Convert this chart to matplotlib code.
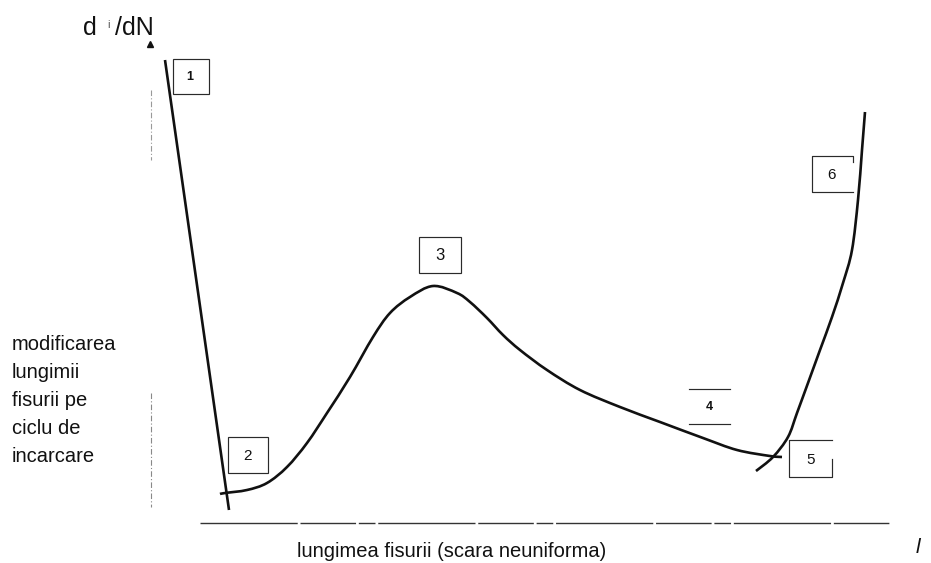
import matplotlib
matplotlib.use("Agg")
import matplotlib.pyplot as plt
from matplotlib.patches import Rectangle, PathPatch
from matplotlib.path import Path

plt.rcParams['font.family'] = ['Liberation Sans', 'DejaVu Sans']

# Schematic crack-growth-rate curve, drawn in a canvas-like coordinate frame
# (x to the right, y downward).
stage1_x = [165, 229]
stage1_y = [60, 510]

main_x = [220, 225, 247, 267, 287, 307, 327, 350, 373, 390, 410, 433,
          457, 470, 487, 503, 520, 547, 580, 620, 660, 703, 737, 770, 782]
main_y = [494, 493, 490, 483, 467, 443, 413, 377, 337, 313, 297, 286,
          293, 302, 318, 335, 350, 370, 390, 407, 422, 438, 450, 456, 457]

final_x = [756, 773, 788, 797, 808, 820, 832, 843, 852, 858, 862, 865]
final_y = [471, 457, 437, 413, 383, 350, 317, 283, 250, 200, 150, 112]

# region labels: (text, x, y)
region_labels = [("1", 190, 77), ("2", 247, 456), ("3", 440, 256),
                 ("4", 709, 407), ("5", 811, 460), ("6", 832, 175)]

y_label_lines = ["modificarea", "lungimii", "fisurii pe", "ciclu de", "incarcare"]
x_label = "lungimea fisurii (scara neuniforma)"


def smooth_path(xs, ys):
    """Smooth Bezier path passing through the given points (Catmull-Rom)."""
    pts = list(zip(xs, ys))
    verts = [pts[0]]
    codes = [Path.MOVETO]
    n = len(pts)
    for i in range(n - 1):
        p0 = pts[i - 1] if i > 0 else pts[i]
        p1 = pts[i]
        p2 = pts[i + 1]
        p3 = pts[i + 2] if i + 2 < n else pts[i + 1]
        c1 = (p1[0] + (p2[0] - p0[0]) / 6, p1[1] + (p2[1] - p0[1]) / 6)
        c2 = (p2[0] - (p3[0] - p1[0]) / 6, p2[1] - (p3[1] - p1[1]) / 6)
        verts += [c1, c2, p2]
        codes += [Path.CURVE4] * 3
    return Path(verts, codes)


fig = plt.figure(figsize=(9.31, 5.63), dpi=100)
ax = fig.add_axes([0, 0, 1, 1])
ax.set_xlim(0, 931)
ax.set_ylim(563, 0)
ax.axis('off')

ink = '#111111'
frame = '#2a2a2a'

# axes
ax.plot([200, 890], [523, 523], color='#333333', lw=1.0,
        linestyle=(0, (70, 2, 40, 2, 12, 2)))
ax.plot([151, 151], [90, 160], color='#999999', lw=0.8, linestyle=(0, (5, 2, 1, 2)))
ax.plot([151, 151], [393, 507], color='#888888', lw=0.8, linestyle=(0, (5, 2, 1, 2)))
ax.plot([150], [44], marker='^', markersize=4.5, color=ink)

# curves
ax.plot(stage1_x, stage1_y, color=ink, lw=1.9, solid_capstyle='butt')
for xs, ys in ((main_x, main_y), (final_x, final_y)):
    ax.add_patch(PathPatch(smooth_path(xs, ys), fill=False, ec=ink, lw=1.9,
                           capstyle='butt', joinstyle='round'))

# region boxes
box_kw = dict(fill=False, ec=frame, lw=0.85)
ax.add_patch(Rectangle((173, 59), 36, 35, **box_kw))
ax.add_patch(Rectangle((228, 437), 40, 36, **box_kw))
ax.add_patch(Rectangle((419, 237), 42, 36, **box_kw))
ax.plot([689, 730], [389, 389], color=frame, lw=0.85)
ax.plot([689, 730], [424, 424], color=frame, lw=0.85)
ax.plot([832, 789, 789, 832, 832], [440, 440, 477, 477, 459],
        color=frame, lw=0.85)
ax.plot([853, 853, 812, 812, 853], [162, 156, 156, 192, 192],
        color=frame, lw=0.85)

sizes = {"1": 9, "2": 11, "3": 12, "4": 9, "5": 11, "6": 11}
for txt, x, y in region_labels:
    ax.text(x, y, txt, fontsize=sizes[txt], ha='center', va='center',
            color=ink, fontweight='bold' if txt in ("1", "4") else 'normal')

# axis titles
ax.text(83, 35, "d", fontsize=18, color=ink, ha='left', va='baseline')
ax.text(107, 28, "i", fontsize=8, color='#555555', ha='left', va='baseline')
ax.text(115, 35, "/dN", fontsize=18, color=ink, ha='left', va='baseline')

for i, line in enumerate(y_label_lines):
    ax.text(12, 350 + i * 28, line, fontsize=14.5, color=ink,
            ha='left', va='baseline')

ax.text(452, 557, x_label, fontsize=14.5, color=ink, ha='center', va='baseline')
ax.text(916, 553, "l", fontsize=15, color=ink, style='italic',
        ha='left', va='baseline')

fig.savefig("out.png", dpi=100)
